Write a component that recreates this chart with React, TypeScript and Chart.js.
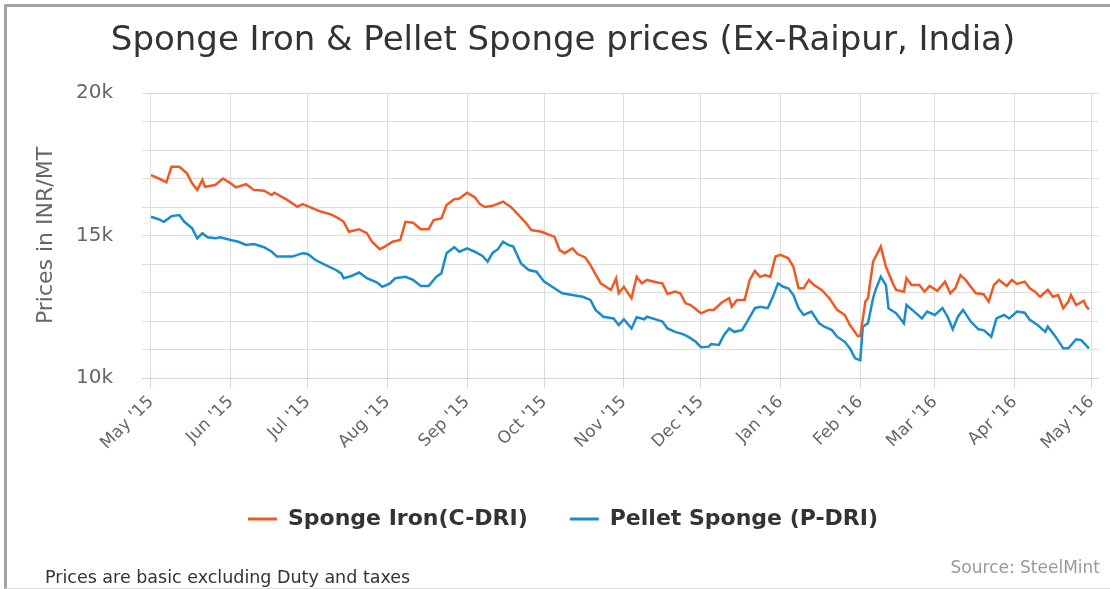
import React, { useEffect, useRef } from 'react';
import { Chart, registerables } from 'chart.js';

Chart.register(...registerables);

// Day offsets from 1 May 2015 of the month gridlines and their labels
const monthOffsets = [0, 31, 61, 92, 123, 153, 184, 214, 245, 276, 305, 336, 366];
const monthLabels = ["May '15", "Jun '15", "Jul '15", "Aug '15", "Sep '15", "Oct '15", "Nov '15", "Dec '15", "Jan '16", "Feb '16", "Mar '16", "Apr '16", "May '16"];

// Sponge Iron (C-DRI): day offset from 1 May 2015, price INR/MT
const siDays = [0, 3, 6, 8, 11, 14, 16, 18, 20, 21, 25, 28, 31, 33, 37, 40, 44, 47, 48, 53, 57, 59, 63, 66, 70, 73, 75, 77, 81, 84, 86, 89, 91, 94, 97, 99, 102, 105, 108, 110, 113, 115, 118, 120, 123, 126, 128, 130, 133, 137, 140, 143, 146, 148, 152, 155, 157, 159, 161, 164, 166, 169, 171, 175, 179, 181, 182, 184, 187, 189, 191, 193, 197, 199, 201, 204, 206, 208, 210, 214, 217, 219, 222, 225, 226, 228, 231, 233, 235, 237, 239, 241, 243, 245, 248, 250, 252, 254, 256, 258, 261, 264, 267, 270, 272, 275, 276, 278, 279, 281, 284, 286, 289, 290, 293, 294, 296, 299, 301, 303, 306, 309, 311, 313, 315, 317, 319, 321, 324, 326, 328, 330, 333, 335, 337, 340, 342, 344, 346, 349, 351, 353, 355, 357, 358, 360, 363, 364, 365];
const siPrices = [17120, 17000, 16870, 17410, 17410, 17180, 16830, 16600, 16950, 16710, 16770, 17000, 16830, 16690, 16800, 16600, 16570, 16420, 16500, 16250, 16010, 16100, 15950, 15840, 15740, 15600, 15480, 15130, 15220, 15080, 14780, 14520, 14610, 14780, 14840, 15480, 15450, 15220, 15220, 15540, 15600, 16070, 16270, 16300, 16500, 16340, 16100, 16000, 16040, 16190, 16000, 15720, 15430, 15190, 15130, 15020, 14960, 14490, 14380, 14550, 14350, 14230, 13960, 13320, 13090, 13500, 12970, 13200, 12800, 13550, 13320, 13440, 13350, 13320, 12950, 13030, 12970, 12620, 12560, 12270, 12390, 12390, 12640, 12800, 12500, 12740, 12740, 13440, 13760, 13550, 13610, 13550, 14260, 14320, 14200, 13900, 13150, 13150, 13440, 13260, 13090, 12800, 12390, 12210, 11860, 11470, 11470, 12680, 12800, 14080, 14610, 13900, 13260, 13090, 13030, 13500, 13260, 13260, 13030, 13230, 13060, 13380, 12970, 13150, 13610, 13440, 13200, 12970, 12940, 12680, 13260, 13440, 13230, 13440, 13300, 13380, 13150, 13030, 12850, 13090, 12850, 12910, 12450, 12680, 12910, 12560, 12710, 12500, 12410];

// Pellet Sponge (P-DRI): day offset from 1 May 2015, price INR/MT
const psDays = [0, 3, 5, 8, 11, 13, 16, 18, 20, 22, 25, 27, 31, 34, 37, 40, 44, 47, 49, 55, 59, 61, 64, 68, 72, 74, 75, 78, 81, 84, 88, 90, 93, 95, 99, 102, 105, 108, 111, 113, 115, 118, 120, 123, 126, 129, 131, 133, 135, 137, 139, 141, 144, 147, 150, 153, 157, 160, 164, 168, 171, 173, 176, 180, 182, 184, 187, 189, 192, 193, 197, 199, 201, 204, 207, 209, 212, 214, 217, 218, 221, 223, 225, 227, 230, 232, 235, 237, 240, 242, 244, 246, 248, 250, 252, 254, 257, 260, 262, 265, 267, 270, 272, 274, 276, 277, 279, 281, 282, 284, 286, 287, 290, 293, 294, 297, 300, 302, 305, 308, 310, 312, 314, 316, 319, 322, 324, 327, 329, 332, 334, 337, 340, 342, 345, 348, 349, 352, 355, 357, 360, 362, 365];
const psPrices = [15660, 15570, 15480, 15680, 15720, 15480, 15250, 14900, 15080, 14940, 14900, 14940, 14840, 14780, 14670, 14700, 14590, 14430, 14260, 14260, 14380, 14350, 14140, 13960, 13790, 13670, 13500, 13580, 13700, 13500, 13350, 13200, 13320, 13500, 13550, 13440, 13230, 13230, 13550, 13670, 14380, 14590, 14430, 14550, 14430, 14280, 14080, 14400, 14520, 14780, 14670, 14610, 14020, 13790, 13730, 13380, 13150, 12970, 12910, 12850, 12740, 12390, 12150, 12090, 11860, 12060, 11740, 12130, 12060, 12150, 12040, 11980, 11740, 11620, 11540, 11450, 11270, 11080, 11100, 11190, 11160, 11510, 11740, 11620, 11680, 11980, 12450, 12500, 12450, 12850, 13320, 13200, 13150, 12910, 12450, 12210, 12330, 11920, 11800, 11680, 11450, 11270, 11040, 10690, 10620, 11800, 11920, 12800, 13100, 13550, 13260, 12450, 12270, 11920, 12560, 12330, 12090, 12330, 12210, 12450, 12150, 11710, 12150, 12390, 11980, 11710, 11680, 11450, 12090, 12210, 12090, 12330, 12290, 12040, 11860, 11620, 11800, 11450, 11040, 11040, 11360, 11330, 11040];

const seriesNames = ['Sponge Iron(C-DRI)', 'Pellet Sponge (P-DRI)'];
const seriesColors = ['#ef5a24', '#1a8dc8'];

const FONT = "'DejaVu Sans', sans-serif";

export default function App() {
  const canvasRef = useRef<HTMLCanvasElement | null>(null);

  useEffect(() => {
    const canvas = canvasRef.current;
    if (!canvas) return;
    Chart.defaults.font.family = FONT;
    const chart = new Chart(canvas, {
      type: 'line',
      data: {
        datasets: [
          {
            label: seriesNames[0],
            data: siDays.map((d, i) => ({ x: d, y: siPrices[i] })),
            borderColor: seriesColors[0],
            backgroundColor: seriesColors[0],
            borderWidth: 2.5,
            pointRadius: 0,
            fill: false,
            tension: 0,
          },
          {
            label: seriesNames[1],
            data: psDays.map((d, i) => ({ x: d, y: psPrices[i] })),
            borderColor: seriesColors[1],
            backgroundColor: seriesColors[1],
            borderWidth: 2.5,
            pointRadius: 0,
            fill: false,
            tension: 0,
          },
        ],
      },
      options: {
        responsive: false,
        animation: false,
        devicePixelRatio: 1,
        layout: { padding: { left: 16, right: 0, top: 0, bottom: 49 } },
        plugins: {
          title: {
            display: true,
            text: 'Sponge Iron & Pellet Sponge prices (Ex-Raipur, India)',
            color: '#333333',
            font: { family: FONT, size: 34, weight: 'normal' },
            padding: { top: 21, bottom: 31.2 },
          },
          legend: {
            position: 'bottom',
            labels: {
              boxWidth: 29,
              boxHeight: 3,
              padding: 42,
              color: '#333333',
              font: { family: FONT, size: 22, weight: 'bold' },
              generateLabels: (c: any) =>
                Chart.defaults.plugins.legend.labels.generateLabels(c).map((l: any) => ({ ...l, lineWidth: 0 })),
            },
          },
          tooltip: { enabled: false },
        },
        scales: {
          x: {
            type: 'linear',
            min: -3.5,
            max: 368.7,
            afterBuildTicks: (s: any) => {
              s.ticks = monthOffsets.map((v) => ({ value: v }));
            },
            afterFit: (s: any) => {
              s.height = 88;
            },
            ticks: {
              autoSkip: false,
              minRotation: 45,
              maxRotation: 45,
              color: '#666666',
              font: { family: FONT, size: 17 },
              padding: 4,
              callback: (v: any) => {
                const i = monthOffsets.indexOf(Number(v));
                return i >= 0 ? monthLabels[i] : '';
              },
            },
            grid: { color: '#dddddd', tickColor: '#ccd6eb', tickLength: 10 },
            border: { color: '#ccd6eb', width: 1 },
          },
          y: {
            min: 10000,
            max: 20000,
            afterFit: (s: any) => {
              s.width = 126;
            },
            ticks: {
              stepSize: 1000,
              padding: 29,
              color: '#666666',
              font: { family: FONT, size: 20 },
              callback: (v: any) => (Number(v) % 5000 === 0 ? Number(v) / 1000 + 'k' : ''),
            },
            grid: {
              color: (c: any) => (c.tick && c.tick.value === 10000 ? '#ccd6eb' : '#dddddd'),
              drawTicks: false,
            },
            border: { display: false },
            title: {
              display: true,
              text: 'Prices in INR/MT',
              color: '#666666',
              font: { family: FONT, size: 22 },
              padding: { top: 17, bottom: 0 },
            },
          },
          yR: {
            type: 'linear',
            position: 'right',
            afterFit: (s: any) => {
              s.width = 8;
            },
            ticks: { display: false },
            grid: { display: false },
            border: { display: false },
          },
        },
      },
    } as any);
    return () => chart.destroy();
  }, []);

  return (
    <div style={{ position: 'absolute', left: 0, top: 0, width: 1110, height: 589, background: '#ffffff', overflow: 'hidden' }}>
      <div
        style={{
          position: 'absolute',
          left: 4,
          top: 4,
          width: 1106,
          height: 585,
          boxSizing: 'border-box',
          borderTop: '3px solid #a3a3a3',
          borderLeft: '3px solid #a3a3a3',
          borderBottom: '1px solid #dddddd',
        }}
      />
      <canvas ref={canvasRef} width={1110} height={589} style={{ position: 'absolute', left: 0, top: 0, display: 'block' }} />
      <div
        style={{
          position: 'absolute',
          left: 45,
          top: 567,
          fontFamily: FONT,
          fontSize: 17.5,
          lineHeight: '20px',
          color: '#333333',
          whiteSpace: 'nowrap',
        }}
      >
        Prices are basic excluding Duty and taxes
      </div>
      <div
        style={{
          position: 'absolute',
          right: 10,
          top: 558,
          fontFamily: FONT,
          fontSize: 17,
          lineHeight: '18px',
          color: '#999999',
          whiteSpace: 'nowrap',
        }}
      >
        Source: SteelMint
      </div>
    </div>
  );
}
